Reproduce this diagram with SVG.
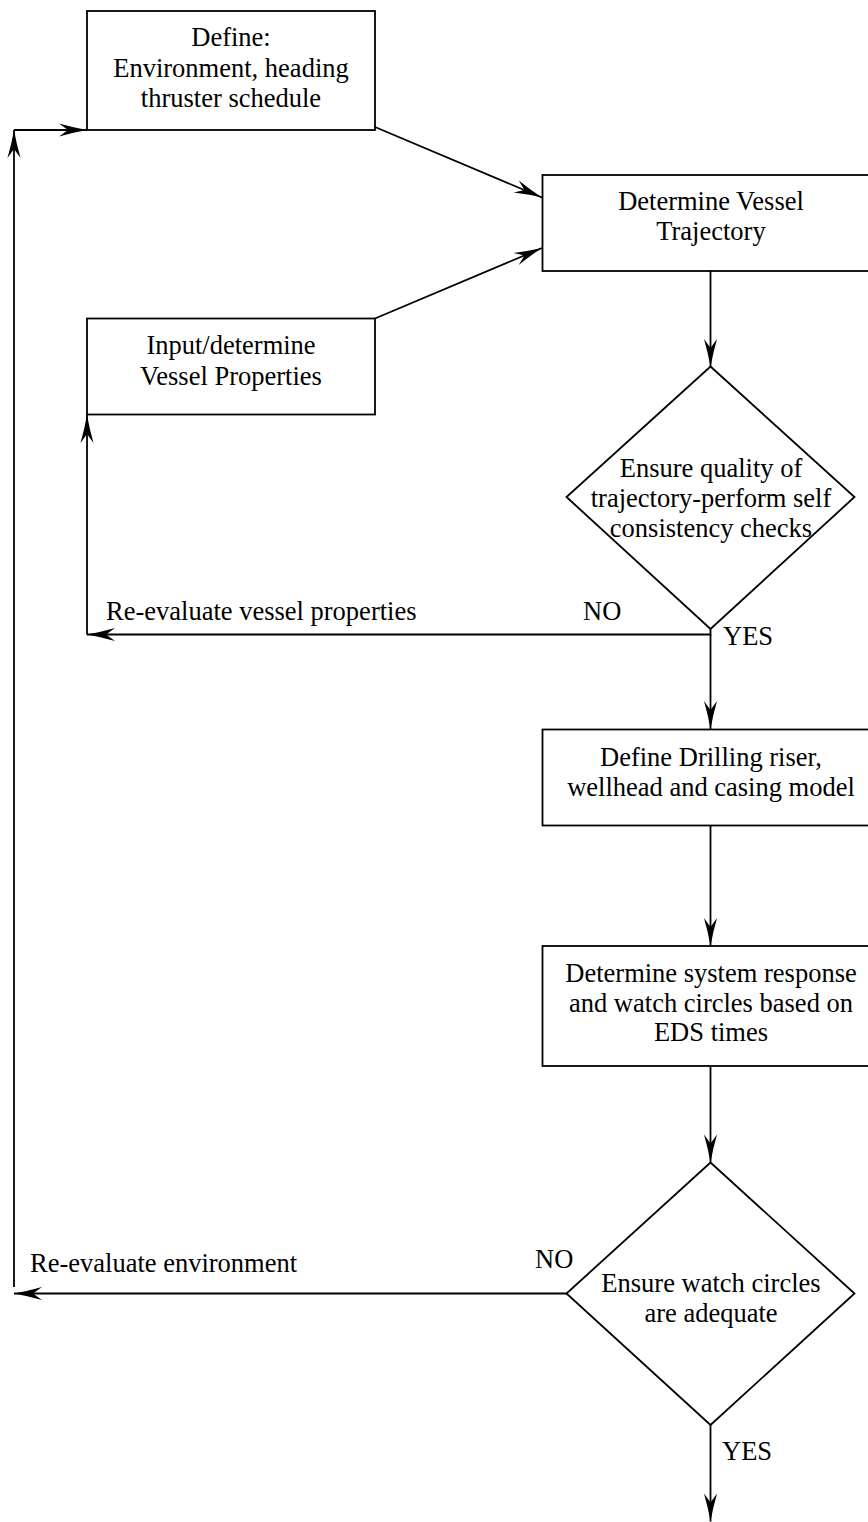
<svg xmlns="http://www.w3.org/2000/svg" width="868" height="1522" viewBox="0 0 868 1522">
<style>
  .box { fill: #fff; stroke: #000; stroke-width: 1.8; }
  .dia { fill: #fff; stroke: #000; stroke-width: 1.8; }
  .ln { fill: none; stroke: #000; stroke-width: 1.8; marker-end: url(#ah); }
  .ln2 { fill: none; stroke: #000; stroke-width: 1.8; }
  text { font-family: "Liberation Serif", "Times New Roman", serif; font-size: 26.5px; fill: #000; }
  .c { text-anchor: middle; }
</style>
<defs>
  <marker id="ah" markerUnits="userSpaceOnUse" markerWidth="32" markerHeight="16" viewBox="-30 -8 32 16" refX="0" refY="0" orient="auto">
    <path d="M0,0 Q-14,-2.5 -28,-6.5 L-19,0 L-28,6.5 Q-14,2.5 0,0 Z" fill="#000"/>
  </marker>
</defs>
<rect width="868" height="1522" fill="#fff"/>

<g id="connectors">
  <line class="ln" x1="375" y1="127" x2="542" y2="197.5"/>
  <line class="ln" x1="375" y1="318.5" x2="542" y2="248"/>
  <line class="ln" x1="710.5" y1="271" x2="710.5" y2="367"/>
  <path class="ln" d="M710.5,629 V634.5 H87"/>
  <line class="ln" x1="87" y1="634.5" x2="87" y2="415"/>
  <line class="ln" x1="710.5" y1="634.5" x2="710.5" y2="729"/>
  <line class="ln" x1="710.5" y1="826" x2="710.5" y2="946"/>
  <line class="ln" x1="710.5" y1="1066" x2="710.5" y2="1162.5"/>
  <line class="ln" x1="567" y1="1293.5" x2="14" y2="1293.5"/>
  <line class="ln" x1="14" y1="1287" x2="14" y2="130"/>
  <line class="ln" x1="14" y1="130" x2="87" y2="130"/>
  <line class="ln" x1="710.5" y1="1425" x2="710.5" y2="1521.5"/>
  <text x="106" y="620">Re-evaluate vessel properties</text>
  <text x="583" y="620">NO</text>
  <text x="723" y="645">YES</text>
  <text x="30" y="1272">Re-evaluate environment</text>
  <text x="535" y="1268">NO</text>
  <text x="722" y="1460">YES</text>
</g>

<g id="define-env">
  <rect class="box" x="87" y="11" width="288" height="119"/>
  <text class="c" x="231" y="46">Define:</text>
  <text class="c" x="231" y="77">Environment, heading</text>
  <text class="c" x="231" y="107">thruster schedule</text>
</g>

<g id="vessel-props">
  <rect class="box" x="87" y="318.5" width="288" height="96"/>
  <text class="c" x="231" y="354">Input/determine</text>
  <text class="c" x="231" y="385">Vessel Properties</text>
</g>

<g id="trajectory">
  <rect class="box" x="542.5" y="175" width="340" height="96"/>
  <text class="c" x="711" y="210">Determine Vessel</text>
  <text class="c" x="711" y="240">Trajectory</text>
</g>

<g id="quality-check">
  <polygon class="dia" points="710.5,366.5 854.5,497 710.5,629 566.5,497"/>
  <text class="c" x="711" y="477">Ensure quality of</text>
  <text class="c" x="711" y="507">trajectory-perform self</text>
  <text class="c" x="711" y="537">consistency checks</text>
</g>

<g id="riser-model">
  <rect class="box" x="542.5" y="729.5" width="340" height="96"/>
  <text class="c" x="711" y="766">Define Drilling riser,</text>
  <text class="c" x="711" y="796">wellhead and casing model</text>
</g>

<g id="system-response">
  <rect class="box" x="542.5" y="946" width="340" height="120"/>
  <text class="c" x="711" y="982">Determine system response</text>
  <text class="c" x="711" y="1012">and watch circles based on</text>
  <text class="c" x="711" y="1041">EDS times</text>
</g>

<g id="watch-circles">
  <polygon class="dia" points="710.5,1162.5 854.5,1293.5 710.5,1425 566.5,1293.5"/>
  <text class="c" x="711" y="1292">Ensure watch circles</text>
  <text class="c" x="711" y="1322">are adequate</text>
</g>
</svg>
